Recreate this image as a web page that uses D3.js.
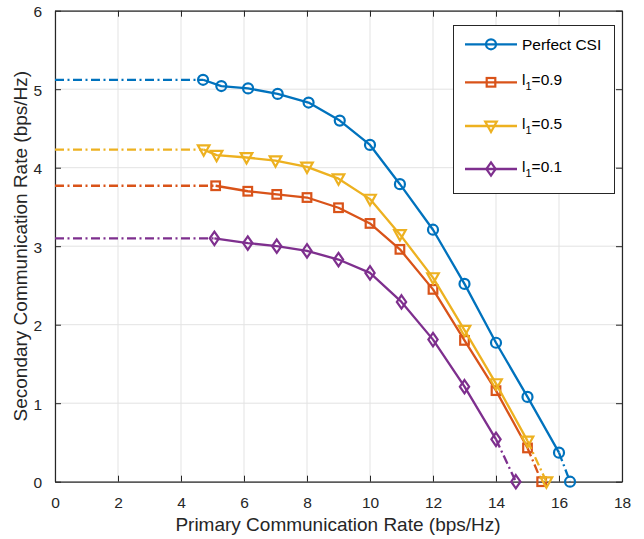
<!DOCTYPE html>
<html>
<head>
<meta charset="utf-8">
<script src="https://cdn.jsdelivr.net/npm/d3@7"></script>
<style>
  html, body { margin: 0; padding: 0; background: #fff; }
  svg { display: block; font-family: "Liberation Sans", Arial, Helvetica, sans-serif; }
</style>
</head>
<body>
<svg id="chart" width="644" height="539"></svg>
<script>
// ---- data ----
const csiX  = [4.70, 5.28, 6.13, 7.07, 8.05, 9.04, 10.0, 10.95, 12.0, 13.0, 14.0, 15.0, 16.0, 16.35];
const csiY  = [5.12, 5.04, 5.01, 4.94, 4.83, 4.60, 4.29, 3.79, 3.21, 2.52, 1.77, 1.08, 0.37, 0];
const l09X  = [5.10, 6.12, 7.04, 8.0, 9.0, 10.0, 10.95, 12.0, 13.0, 14.0, 15.0, 15.45];
const l09Y  = [3.77, 3.70, 3.66, 3.62, 3.49, 3.29, 2.96, 2.45, 1.80, 1.16, 0.43, 0];
const l05X  = [4.72, 5.13, 6.08, 7.0, 8.0, 9.0, 10.0, 10.95, 12.0, 13.0, 14.0, 15.0, 15.6];
const l05Y  = [4.23, 4.16, 4.13, 4.09, 4.01, 3.86, 3.60, 3.15, 2.60, 1.93, 1.25, 0.52, 0];
const l01X  = [5.06, 6.12, 7.04, 8.0, 9.0, 10.0, 11.0, 12.0, 13.0, 14.0, 14.63];
const l01Y  = [3.10, 3.04, 3.00, 2.94, 2.83, 2.66, 2.29, 1.81, 1.21, 0.54, 0];
const seriesNames = ["Perfect CSI", "l1=0.9", "l1=0.5", "l1=0.1"];
const xTicks = [0, 2, 4, 6, 8, 10, 12, 14, 16, 18];
const yTicks = [0, 1, 2, 3, 4, 5, 6];
const xLabel = "Primary Communication Rate (bps/Hz)";
const yLabel = "Secondary Communication Rate (bps/Hz)";

const colors = ["#0072BD", "#D95319", "#EDB120", "#7E2F8E"];
const markers = ["circle", "square", "triangle", "diamond"];

const series = [
  {name: seriesNames[0], xs: csiX, ys: csiY},
  {name: seriesNames[1], xs: l09X, ys: l09Y},
  {name: seriesNames[2], xs: l05X, ys: l05Y},
  {name: seriesNames[3], xs: l01X, ys: l01Y}
].map((s, i) => ({...s, color: colors[i], marker: markers[i],
  pts: s.xs.map((x, j) => ({x, y: s.ys[j]}))}));

// ---- layout ----
const L = 55, R = 622, T = 10.7, B = 481.7;
const svg = d3.select("#chart");
const x = d3.scaleLinear().domain([0, 18]).range([L, R]);
const y = d3.scaleLinear().domain([0, 6]).range([B, T]);
const axisColor = "#262626";
const fmt = d3.format("d");

// grid
const grid = svg.append("g");
grid.selectAll(".gx").data(xTicks).enter().append("line")
  .attr("x1", d => x(d)).attr("x2", d => x(d)).attr("y1", T).attr("y2", B)
  .attr("stroke", "#e3e3e3").attr("stroke-width", 1);
grid.selectAll(".gy").data(yTicks).enter().append("line")
  .attr("y1", d => y(d)).attr("y2", d => y(d)).attr("x1", L).attr("x2", R)
  .attr("stroke", "#e3e3e3").attr("stroke-width", 1);

// axes (inward ticks on all four sides)
const tl = 6;
const axB = svg.append("g").attr("transform", `translate(0,${B})`)
  .call(d3.axisBottom(x).tickValues(xTicks).tickFormat(fmt).tickSizeInner(-tl).tickSizeOuter(0).tickPadding(tl + 9));
const axT = svg.append("g").attr("transform", `translate(0,${T})`)
  .call(d3.axisTop(x).tickValues(xTicks).tickSizeInner(-tl).tickSizeOuter(0).tickFormat(""));
const axL = svg.append("g").attr("transform", `translate(${L},0)`)
  .call(d3.axisLeft(y).tickValues(yTicks).tickFormat(fmt).tickSizeInner(-tl).tickSizeOuter(0).tickPadding(tl + 7));
const axR = svg.append("g").attr("transform", `translate(${R},0)`)
  .call(d3.axisRight(y).tickValues(yTicks).tickSizeInner(-tl).tickSizeOuter(0).tickFormat(""));
[axB, axT, axL, axR].forEach(a => {
  a.select(".domain").attr("stroke", axisColor).attr("stroke-width", 1.2);
  a.selectAll(".tick line").attr("stroke", axisColor).attr("stroke-width", 1);
  a.selectAll(".tick text").attr("fill", axisColor)
    .style("font-family", '"Liberation Sans", Arial, sans-serif').style("font-size", "15.5px");
});
axB.selectAll(".tick text").attr("dy", "0.71em");
axL.selectAll(".tick text").attr("dy", "0.4em");

// axis labels
svg.append("text").attr("x", 338).attr("y", 531)
  .attr("text-anchor", "middle").attr("fill", axisColor)
  .style("font-size", "19px").text(xLabel);
svg.append("text").attr("transform", `translate(27,${(T + B) / 2}) rotate(-90)`)
  .attr("text-anchor", "middle").attr("fill", axisColor)
  .style("font-size", "19px").text(yLabel);

// marker drawing
function drawMarker(g, type, cx, cy, color) {
  const sw = 2.2;
  if (type === "circle") {
    g.append("circle").attr("cx", cx).attr("cy", cy).attr("r", 5)
      .attr("fill", "none").attr("stroke", color).attr("stroke-width", sw);
  } else if (type === "square") {
    g.append("rect").attr("x", cx - 4.3).attr("y", cy - 4.3).attr("width", 8.6).attr("height", 8.6)
      .attr("fill", "none").attr("stroke", color).attr("stroke-width", sw);
  } else if (type === "triangle") {
    const s = 5.8;
    g.append("path").attr("d", `M${cx - s},${cy - s * 0.75}L${cx + s},${cy - s * 0.75}L${cx},${cy + s * 1.05}Z`)
      .attr("fill", "none").attr("stroke", color).attr("stroke-width", sw).attr("stroke-linejoin", "miter");
  } else {
    const s = 5.8;
    g.append("path").attr("d", `M${cx},${cy - s * 1.15}L${cx + s * 0.8},${cy}L${cx},${cy + s * 1.15}L${cx - s * 0.8},${cy}Z`)
      .attr("fill", "none").attr("stroke", color).attr("stroke-width", sw);
  }
}

const line = d3.line().x(d => x(d.x)).y(d => y(d.y));
const dashDot = "9,3.5,2,3.5";
const lw = 2.3;
const plot = svg.append("g");
series.forEach(s => {
  const p = s.pts, n = p.length;
  plot.append("path").datum([{x: 0, y: p[0].y}, p[0]]).attr("d", line)
    .attr("fill", "none").attr("stroke", s.color).attr("stroke-width", lw).attr("stroke-dasharray", dashDot);
  plot.append("path").datum(p.slice(0, n - 1)).attr("d", line)
    .attr("fill", "none").attr("stroke", s.color).attr("stroke-width", lw).attr("stroke-linejoin", "round");
  plot.append("path").datum(p.slice(n - 2)).attr("d", line)
    .attr("fill", "none").attr("stroke", s.color).attr("stroke-width", lw).attr("stroke-dasharray", dashDot);
  const mg = plot.append("g");
  p.forEach(d => drawMarker(mg, s.marker, x(d.x), y(d.y), s.color));
});

// legend
const lg = svg.append("g");
lg.append("rect").attr("x", 453.5).attr("y", 25.5).attr("width", 161).attr("height", 168)
  .attr("fill", "#fff").attr("stroke", axisColor).attr("stroke-width", 1);
const legY = [44.3, 82.3, 126, 169];
series.forEach((s, i) => {
  const yy = legY[i];
  lg.append("line").attr("x1", 465).attr("x2", 517).attr("y1", yy).attr("y2", yy)
    .attr("stroke", s.color).attr("stroke-width", lw);
  drawMarker(lg, s.marker, 491, yy, s.color);
  const t = lg.append("text").attr("x", 522).attr("fill", "#000").style("font-size", "15.5px");
  if (i === 0) {
    t.attr("y", yy + 5.5).text(s.name);
  } else {
    t.attr("y", yy + 3);
    const parts = s.name.split("1=");
    t.append("tspan").text("l");
    t.append("tspan").attr("dy", 5).style("font-size", "11px").text("1");
    t.append("tspan").attr("dy", -5).text("=" + parts[1]);
  }
});
</script>
</body>
</html>
